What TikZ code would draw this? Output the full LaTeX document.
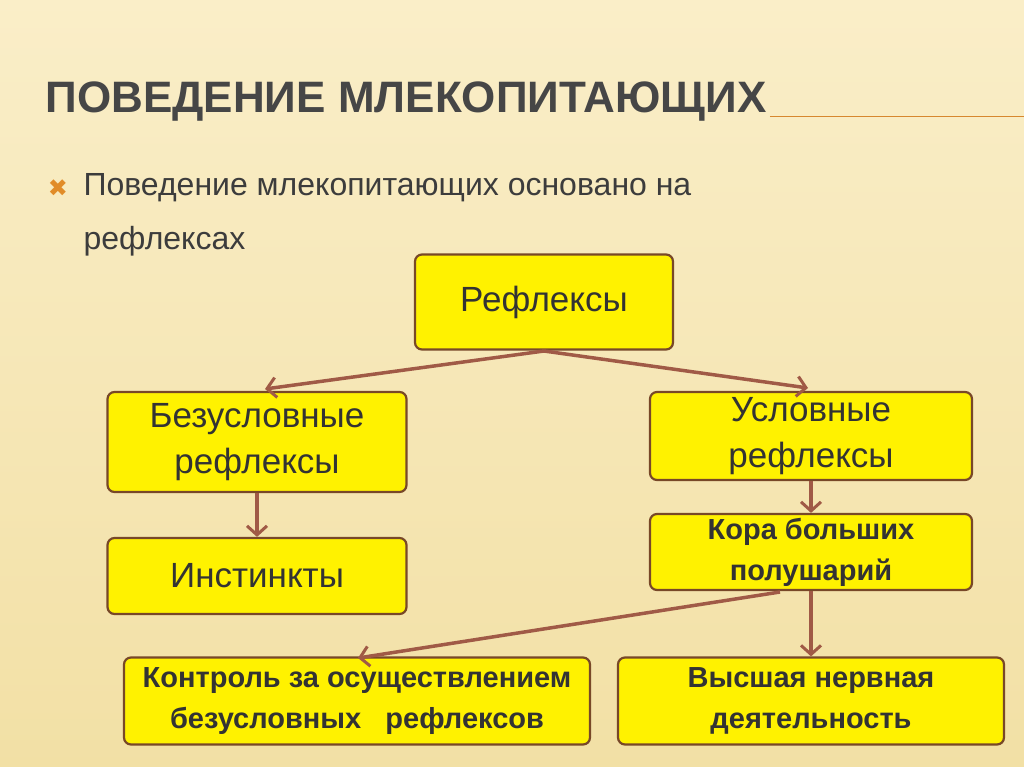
\documentclass[tikz,border=0pt]{standalone}
\usepackage{fontspec}
\setmainfont{Liberation Sans}
\newfontfamily\djv{DejaVu Sans}
\definecolor{bg}{RGB}{242,224,165}
\definecolor{bgl}{RGB}{250,238,200}
\definecolor{brd}{RGB}{120,72,40}
\definecolor{arr}{RGB}{160,90,70}
\definecolor{ttl}{RGB}{70,70,70}
\definecolor{txt}{RGB}{60,60,60}
\definecolor{orn}{RGB}{225,140,40}
\tikzset{
 box/.style={draw=brd,line width=2.2pt,fill=yellow,rounded corners=7pt,align=center,text=black!80,font=\fontsize{35}{46}\selectfont},
 sbox/.style={box,font=\bfseries\fontsize{29}{41}\selectfont},
 ar/.style={draw=arr,line width=3.5pt,-{Straight Barb[length=9pt,width=20pt,line width=3pt]}}
}
\usetikzlibrary{arrows.meta}
\begin{document}
\begin{tikzpicture}[x=1pt,y=-1pt]
\useasboundingbox (0,0) rectangle (1024,767);
\shade[top color=bgl,bottom color=bg] (0,0) rectangle (1024,767);
\node[anchor=west,text=ttl,font=\bfseries\fontsize{44}{48}\selectfont] (title) at (42,102) {ПОВЕДЕНИЕ МЛЕКОПИТАЮЩИХ};
\draw[orn!70!brown,line width=1pt] (title.east |- 0,117) -- (1024,117);
\node[text=orn,font=\djv\fontsize{24}{24}\selectfont] (bul) at (58,188) {✖};
\node[anchor=north west,align=left,text=txt,font=\fontsize{32}{54}\selectfont] (t) at (80,170) {Поведение млекопитающих основано на\\рефлексах};
\node[box,minimum width=258,minimum height=95] (r) at (544,302) {Рефлексы};
\node[box,minimum width=299,minimum height=100] (b) at (257,442) {Безусловные\\рефлексы};
\node[box,minimum width=322,minimum height=88] (u) at (811,436) {Условные\\рефлексы};
\node[box,minimum width=299,minimum height=76] (i) at (257,576) {Инстинкты};
\node[sbox,minimum width=322,minimum height=76] (k) at (811,552) {Кора больших\\полушарий};
\node[sbox,minimum width=466,minimum height=87] (c) at (357,701) {Контроль за осуществлением\\безусловных \ \ рефлексов};
\node[sbox,minimum width=386,minimum height=87] (v) at (811,701) {Высшая нервная\\деятельность};
\coordinate (rs) at (544,351);
\draw[ar] (rs) -- (265,389);
\draw[ar] (rs) -- (808,388);
\draw[ar] (b.south) -- (i.north);
\draw[ar] (u.south) -- (k.north);
\draw[ar] (k.south) -- (v.north);
\draw[ar] (780,592) -- (358,658);
\end{tikzpicture}
\end{document}
